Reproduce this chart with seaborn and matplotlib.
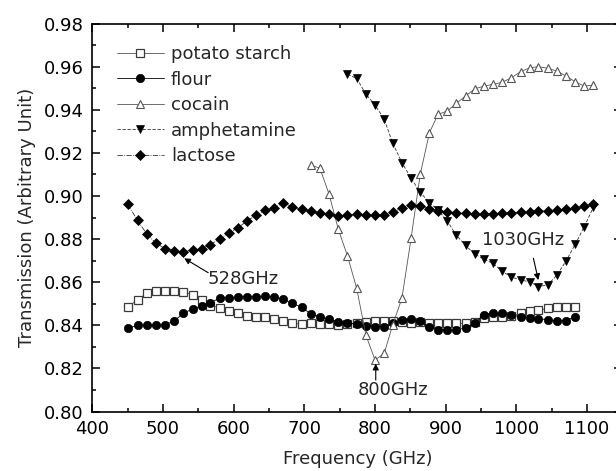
import matplotlib
matplotlib.use("Agg")
import matplotlib.pyplot as plt
import seaborn as sns
import pandas as pd
from matplotlib.ticker import MultipleLocator, FormatStrFormatter

# ---------------- data ----------------
freq_grid = [450, 464, 477, 490, 503, 516, 529, 542, 555, 567, 580, 593, 606, 619,
             632, 645, 657, 670, 683, 696, 709, 722, 735, 748, 761, 774, 787, 800,
             813, 825, 838, 851, 864, 877, 889, 902, 915, 928, 941, 954, 967, 980,
             993, 1006, 1019, 1031, 1044, 1057, 1070, 1083, 1096, 1109]

potato_freq = freq_grid[0:50]
potato_val = [0.8486, 0.8517, 0.8549, 0.8559, 0.8559, 0.8561, 0.8555, 0.8541, 0.8517, 0.8491,
              0.8482, 0.8467, 0.8456, 0.8445, 0.8440, 0.8437, 0.8428, 0.8420, 0.8410, 0.8405,
              0.8409, 0.8408, 0.8405, 0.8402, 0.8405, 0.8410, 0.8415, 0.8418, 0.8420, 0.8418,
              0.8415, 0.8412, 0.8415, 0.8412, 0.8409, 0.8409, 0.8409, 0.8410, 0.8417, 0.8433,
              0.8440, 0.8440, 0.8442, 0.8456, 0.8465, 0.8470, 0.8478, 0.8484, 0.8486, 0.8486]

flour_freq = freq_grid[0:50]
flour_val = [0.8386, 0.8400, 0.8400, 0.8400, 0.8402, 0.8421, 0.8456, 0.8476, 0.8491, 0.8505,
             0.8526, 0.8528, 0.8530, 0.8533, 0.8533, 0.8536, 0.8533, 0.8521, 0.8502, 0.8484,
             0.8453, 0.8440, 0.8428, 0.8417, 0.8409, 0.8406, 0.8398, 0.8394, 0.8394, 0.8409,
             0.8425, 0.8430, 0.8418, 0.8390, 0.8380, 0.8377, 0.8379, 0.8388, 0.8410, 0.8450,
             0.8459, 0.8455, 0.8447, 0.8440, 0.8436, 0.8431, 0.8426, 0.8420, 0.8422, 0.8440]

cocain_freq = freq_grid[20:52]
cocain_val = [0.9144, 0.9129, 0.9008, 0.8846, 0.8722, 0.8572, 0.8355, 0.8239, 0.8270, 0.8402,
              0.8525, 0.8804, 0.9102, 0.9294, 0.9379, 0.9394, 0.9430, 0.9464, 0.9497, 0.9510,
              0.9518, 0.9528, 0.9549, 0.9577, 0.9595, 0.9600, 0.9593, 0.9580, 0.9557, 0.9530,
              0.9510, 0.9515]

amph_freq = freq_grid[24:52]
amph_val = [0.9565, 0.9546, 0.9473, 0.9422, 0.9356, 0.9245, 0.9155, 0.9082, 0.9017, 0.8969,
            0.8935, 0.8885, 0.8818, 0.8771, 0.8730, 0.8707, 0.8687, 0.8650, 0.8624, 0.8610,
            0.8602, 0.8580, 0.8587, 0.8632, 0.8697, 0.8775, 0.8858, 0.8949]

lactose_freq = freq_grid[0:52]
lactose_val = [0.8962, 0.8887, 0.8824, 0.8781, 0.8756, 0.8745, 0.8742, 0.8748, 0.8756, 0.8774,
               0.8801, 0.8828, 0.8853, 0.8884, 0.8912, 0.8933, 0.8943, 0.8969, 0.8950, 0.8938,
               0.8930, 0.8922, 0.8915, 0.8906, 0.8912, 0.8915, 0.8912, 0.8910, 0.8912, 0.8927,
               0.8943, 0.8960, 0.8955, 0.8942, 0.8932, 0.8927, 0.8920, 0.8920, 0.8917, 0.8915,
               0.8917, 0.8920, 0.8922, 0.8924, 0.8927, 0.8930, 0.8932, 0.8935, 0.8938, 0.8943,
               0.8952, 0.8962]

x_ticks = [400, 500, 600, 700, 800, 900, 1000, 1100]
y_ticks = [0.80, 0.82, 0.84, 0.86, 0.88, 0.90, 0.92, 0.94, 0.96, 0.98]

# annotations: (text, text position, arrow tail, arrow head)
ann_528 = ("528GHz", (563, 0.8614), (564, 0.8644), (530, 0.8711))
ann_1030 = ("1030GHz", (1010, 0.8796), (1024, 0.8711), (1031, 0.8610))
ann_800 = ("800GHz", (825, 0.8100), (801, 0.8146), (801, 0.8222))

# ---------------- style ----------------
sns.set_style("ticks")
plt.rcParams["font.family"] = ["DejaVu Sans"]
plt.rcParams["font.size"] = 13
plt.rcParams["axes.linewidth"] = 1.2

fig = plt.figure(figsize=(6.16, 4.71), dpi=100)
ax = fig.add_axes([0.1498, 0.1263, 0.8607, 0.8236])

series = [
    ("potato starch", potato_freq, potato_val,
     dict(marker="s", markersize=5.2, markerfacecolor="white", markeredgecolor="#3a3a3a",
          markeredgewidth=0.9, color="#555555", linestyle="-", linewidth=0.6)),
    ("flour", flour_freq, flour_val,
     dict(marker="o", markersize=6.0, markerfacecolor="black", markeredgecolor="black",
          markeredgewidth=0.5, color="black", linestyle="-", linewidth=0.6)),
    ("cocain", cocain_freq, cocain_val,
     dict(marker="^", markersize=6.0, markerfacecolor="white", markeredgecolor="#555555",
          markeredgewidth=0.8, color="#555555", linestyle="-", linewidth=0.6)),
    ("amphetamine", amph_freq, amph_val,
     dict(marker="v", markersize=6.2, markerfacecolor="black", markeredgecolor="black",
          markeredgewidth=0.5, color="#333333", linestyle=(0, (4, 2)), linewidth=0.6)),
    ("lactose", lactose_freq, lactose_val,
     dict(marker="D", markersize=4.8, markerfacecolor="black", markeredgecolor="black",
          markeredgewidth=0.5, color="#333333", linestyle="-.", linewidth=0.6)),
]

for name, fx, fy, kw in series:
    df = pd.DataFrame({"Frequency": fx, "Transmission": fy})
    sns.lineplot(data=df, x="Frequency", y="Transmission", ax=ax, label=name,
                 estimator=None, sort=False, **kw)

ax.set_xlim(400, 1150)
ax.set_ylim(0.80, 0.98)
ax.set_xticks(x_ticks)
ax.set_yticks(y_ticks)
ax.xaxis.set_minor_locator(MultipleLocator(50))
ax.yaxis.set_minor_locator(MultipleLocator(0.01))
ax.yaxis.set_major_formatter(FormatStrFormatter("%.2f"))
ax.tick_params(which="both", direction="in", top=True, right=True, width=1.1, colors="black",
               labelsize=13)
ax.tick_params(which="major", length=5.5)
ax.tick_params(which="minor", length=3)
ax.tick_params(axis="x", which="major", pad=6)
ax.tick_params(axis="y", which="major", pad=6)
for sp in ax.spines.values():
    sp.set_visible(True)
    sp.set_color("black")
    sp.set_linewidth(1.2)

ax.set_xlabel("Frequency (GHz)", fontsize=13, labelpad=9)
ax.set_ylabel("Transmission (Arbitrary Unit)", fontsize=13, labelpad=6)

leg = ax.legend(loc="upper left", bbox_to_anchor=(0.046, 0.945), frameon=False,
                borderpad=0, borderaxespad=0, handlelength=2.6, handletextpad=0.4,
                labelspacing=0.42, fontsize=13)

for text, tpos, tail, head in (ann_528, ann_1030, ann_800):
    ax.annotate("", xy=head, xytext=tail,
                arrowprops=dict(arrowstyle="-|>", color="black", lw=0.8,
                                mutation_scale=9, shrinkA=0, shrinkB=0))
ax.text(*ann_528[1], ann_528[0], ha="left", va="center", fontsize=13)
ax.text(*ann_1030[1], ann_1030[0], ha="center", va="center", fontsize=13)
ax.text(*ann_800[1], ann_800[0], ha="center", va="center", fontsize=13)

fig.savefig("out.png", dpi=100)
